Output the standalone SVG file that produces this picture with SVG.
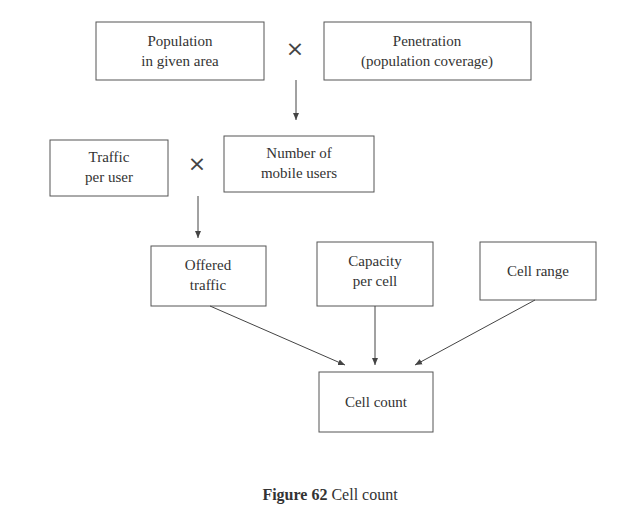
<svg xmlns="http://www.w3.org/2000/svg" width="641" height="512" viewBox="0 0 641 512">
<style>
.b{fill:#fff;stroke:#555;stroke-width:1}
.t{font-family:"Liberation Serif",serif;font-size:15px;fill:#333;text-anchor:middle}
.x{font-family:"DejaVu Sans",sans-serif;font-size:22px;fill:#444;text-anchor:middle}
.c{stroke:#444;stroke-width:1;fill:none;marker-end:url(#a)}
</style>
<defs><marker id="a" markerWidth="8" markerHeight="8" refX="7" refY="4" orient="auto" markerUnits="userSpaceOnUse"><path d="M0,1 L7,4 L0,7 z" fill="#444"/></marker></defs>
<rect width="641" height="512" fill="#fff"/>
<g id="pop"><rect class="b" x="96" y="22" width="168" height="58"/><text class="t" x="180" y="46">Population</text><text class="t" x="180" y="66">in given area</text></g>
<text class="x" x="295" y="56">×</text>
<g id="pen"><rect class="b" x="324" y="22" width="207" height="58"/><text class="t" x="427" y="46">Penetration</text><text class="t" x="427" y="66">(population coverage)</text></g>
<g id="traffic"><rect class="b" x="50" y="140" width="118" height="56"/><text class="t" x="109" y="162">Traffic</text><text class="t" x="109" y="182">per user</text></g>
<text class="x" x="197" y="171">×</text>
<g id="users"><rect class="b" x="224" y="136" width="150" height="56"/><text class="t" x="299" y="158">Number of</text><text class="t" x="299" y="178">mobile users</text></g>
<g id="offered"><rect class="b" x="151" y="246" width="115" height="60"/><text class="t" x="208" y="270">Offered</text><text class="t" x="208" y="290">traffic</text></g>
<g id="capacity"><rect class="b" x="317" y="242" width="116" height="64"/><text class="t" x="375" y="266">Capacity</text><text class="t" x="375" y="286">per cell</text></g>
<g id="range"><rect class="b" x="480" y="242" width="116" height="58"/><text class="t" x="538" y="276">Cell range</text></g>
<g id="count"><rect class="b" x="319" y="372" width="114" height="60"/><text class="t" x="376" y="407">Cell count</text></g>
<g id="connectors">
<line class="c" x1="296" y1="80" x2="296" y2="120"/>
<line class="c" x1="198" y1="196" x2="198" y2="238"/>
<line class="c" x1="210" y1="306" x2="345" y2="365"/>
<line class="c" x1="375" y1="306" x2="375" y2="365"/>
<line class="c" x1="535" y1="300" x2="415" y2="365"/>
</g>
<text x="330" y="500" style="font-family:'Liberation Serif',serif;font-size:16px;fill:#333;text-anchor:middle"><tspan font-weight="bold">Figure 62</tspan> Cell count</text>
</svg>
